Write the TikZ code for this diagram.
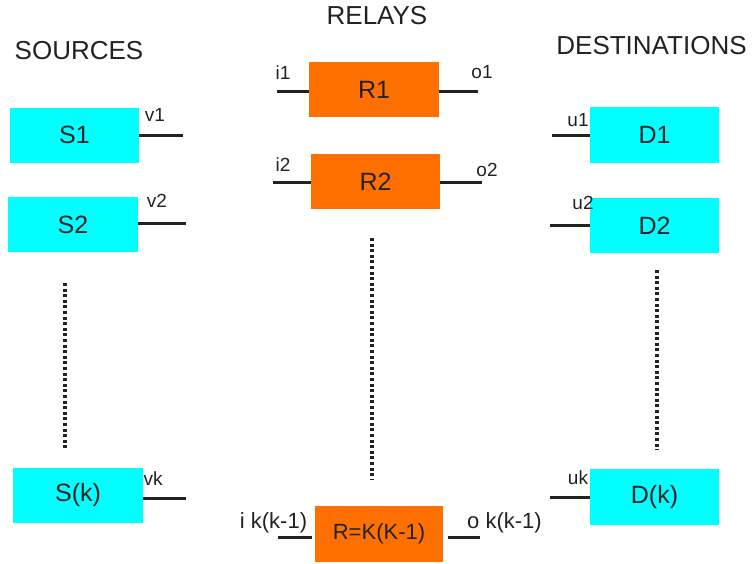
\documentclass[tikz,border=0pt]{standalone}
\usepackage{fontspec}
\setmainfont{Liberation Sans}
\definecolor{boxcyan}{RGB}{0,255,255}
\definecolor{boxorange}{RGB}{255,112,0}
\definecolor{ink}{RGB}{34,34,34}
\tikzset{
  srcbox/.style={rectangle, fill=boxcyan, draw=none, minimum width=129pt, minimum height=55pt, inner sep=0pt, text=ink, font=\fontsize{25}{28}\selectfont},
  relbox/.style={rectangle, fill=boxorange, draw=none, minimum width=129pt, minimum height=55pt, inner sep=0pt, text=ink, font=\fontsize{25}{28}\selectfont},
  header/.style={inner sep=0pt, text=ink, font=\fontsize{26}{30}\selectfont},
  port/.style={inner sep=0pt, text=ink, font=\fontsize{19}{22}\selectfont},
  portbig/.style={inner sep=0pt, text=ink, font=\fontsize{22}{25}\selectfont},
  stub/.style={draw=ink, line width=3pt},
  dots/.style={draw=ink, line width=3.2pt, dash pattern=on 3pt off 2.6pt}
}
\begin{document}
\begin{tikzpicture}[x=1pt,y=-1pt]
\useasboundingbox (0,0) rectangle (753,563);
% headers
\node[header] (hs) at (79,51) {SOURCES};
\node[header] (hr) at (377,16) {RELAYS};
\node[header] (hd) at (651.5,46) {DESTINATIONS};
% sources
\node[srcbox] (S1) at (74.5,135) {S1};
\node[srcbox, minimum width=130pt] (S2) at (73,224.5) {S2};
\node[srcbox, minimum width=130pt] (Sk) at (78,495.5) {S(k)};
% relays
\node[relbox, minimum width=130pt] (R1) at (374,89.5) {R1};
\node[relbox] (R2) at (375.5,181.5) {R2};
\node[relbox, minimum width=128pt, minimum height=56pt, font=\fontsize{22}{25}\selectfont] (RK) at (379,534) {R=K(K-1)};
% destinations
\node[srcbox, minimum height=56pt] (D1) at (654.5,135) {D1};
\node[srcbox] (D2) at (654.5,225.5) {D2};
\node[srcbox, minimum height=56pt] (Dk) at (654.5,497) {D(k)};
% stub ends
\coordinate (v1e) at (183,135);
\coordinate (v2e) at (186,223);
\coordinate (vke) at (186,498);
\coordinate (i1e) at (277,91);
\coordinate (o1e) at (478,91);
\coordinate (i2e) at (273,182);
\coordinate (o2e) at (482,182);
\coordinate (ike) at (278,537);
\coordinate (oke) at (480,537);
\coordinate (u1e) at (552,135);
\coordinate (u2e) at (550,225);
\coordinate (uke) at (550,497);
% stubs
\draw[stub] (S1.east |- v1e) -- (v1e);
\draw[stub] (S2.east |- v2e) -- (v2e);
\draw[stub] (Sk.east |- vke) -- (vke);
\draw[stub] (R1.west |- i1e) -- (i1e);
\draw[stub] (R1.east |- o1e) -- (o1e);
\draw[stub] (R2.west |- i2e) -- (i2e);
\draw[stub] (R2.east |- o2e) -- (o2e);
\draw[stub] ([xshift=-3pt]RK.west |- ike) -- (ike);
\draw[stub] ([xshift=5pt]RK.east |- oke) -- (oke);
\draw[stub] (D1.west |- u1e) -- (u1e);
\draw[stub] (D2.west |- u2e) -- (u2e);
\draw[stub] (Dk.west |- uke) -- (uke);
% port labels
\node[port] (v1) at (155,115) {v1};
\node[port] (v2) at (157,201) {v2};
\node[port] (vk) at (153,479) {vk};
\node[port] (i1) at (283,73) {i1};
\node[port] (o1) at (482,72) {o1};
\node[port] (i2) at (283,165) {i2};
\node[port] (o2) at (487,170) {o2};
\node[port] (u1) at (578,120) {u1};
\node[port] (u2) at (583,203) {u2};
\node[port] (uk) at (578,478) {uk};
\node[portbig] (ik) at (273.5,523) {i k(k-1)};
\node[portbig] (ok) at (504.5,523) {o k(k-1)};
% dotted continuation lines
\draw[dots] (65,283) -- (65,448);
\draw[dots] (372,238) -- (372,480);
\draw[dots] (657,270) -- (657,450);
\end{tikzpicture}
\end{document}
